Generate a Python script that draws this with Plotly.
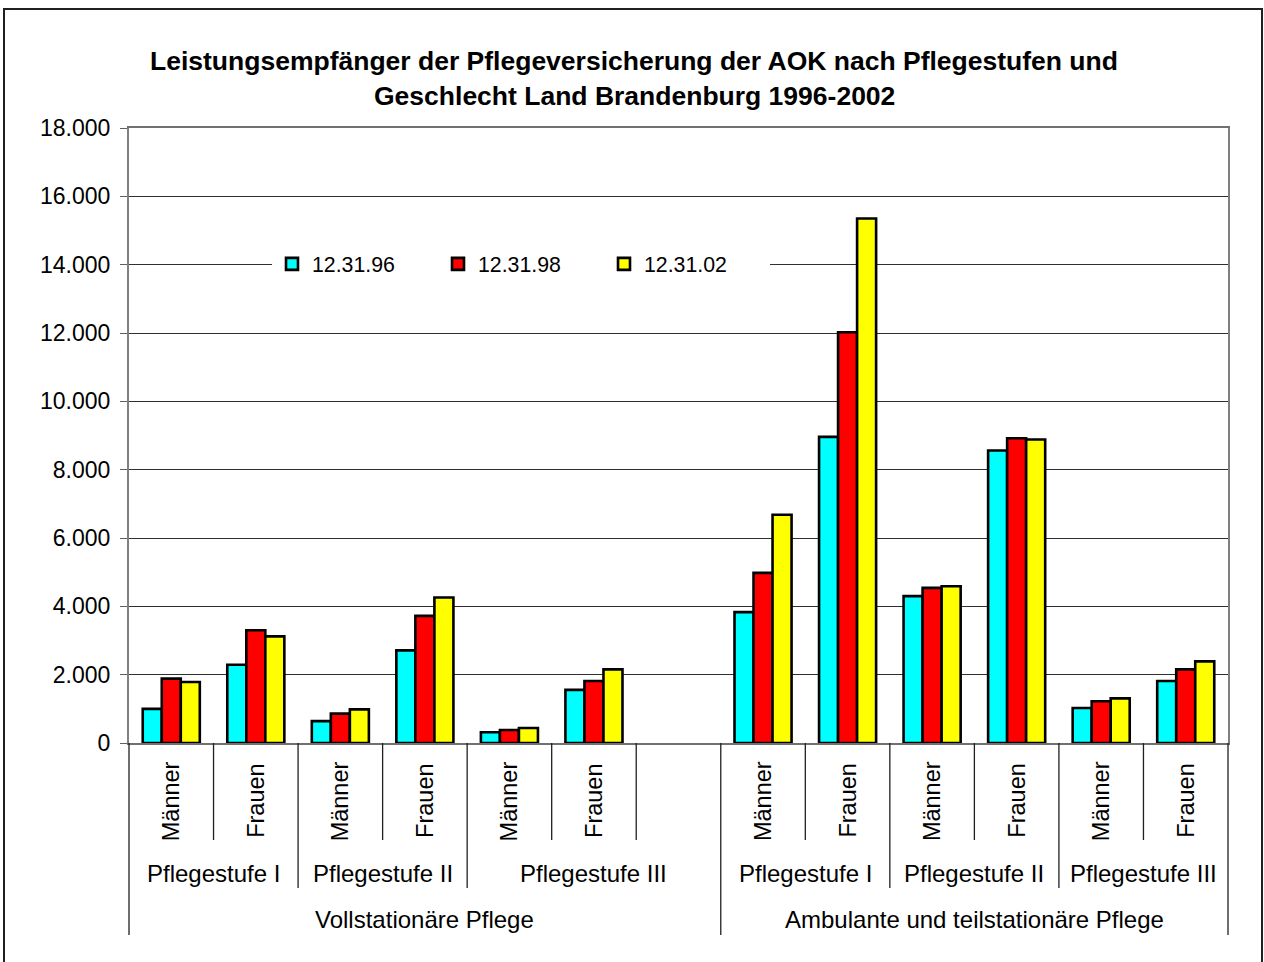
import plotly.graph_objects as go

# ---- data -------------------------------------------------------------
sectors = ["Vollstationäre Pflege"] * 7 + ["Ambulante und teilstationäre Pflege"] * 6
stufen = (["Pflegestufe I"] * 2 + ["Pflegestufe II"] * 2 + ["Pflegestufe III"] * 3
          + ["Pflegestufe I"] * 2 + ["Pflegestufe II"] * 2 + ["Pflegestufe III"] * 2)
sexes = ["Männer", "Frauen", "Männer", "Frauen", "Männer", "Frauen", "",
         "Männer", "Frauen", "Männer", "Frauen", "Männer", "Frauen"]

series_names = ["12.31.96", "12.31.98", "12.31.02"]
v96 = [1000, 2290, 640, 2710, 315, 1555, None, 3830, 8960, 4300, 8560, 1025, 1815]
v98 = [1885, 3300, 860, 3720, 380, 1815, None, 4980, 12020, 4540, 8920, 1220, 2155]
v02 = [1785, 3120, 985, 4260, 440, 2155, None, 6680, 15350, 4590, 8885, 1305, 2390]
colors = ["#00FFFF", "#FF0000", "#FFFF00"]

title_lines = ["Leistungsempfänger der Pflegeversicherung der AOK nach Pflegestufen und",
               "Geschlecht Land Brandenburg 1996-2002"]

FONT = "Liberation Sans, Arial, sans-serif"
W, H = 1264, 962
L, R, T, B = 129, 36, 128, 219
PH = H - T - B


def py(ypix):
    """pixel row -> paper y"""
    return (H - B - ypix) / PH


def px(xpix):
    return (xpix - L) / (W - L - R)


keys = [f"{a}|{b}|{c}|{i}" for i, (a, b, c) in enumerate(zip(sectors, stufen, sexes))]
N = len(keys)

fig = go.Figure()
for name, vals, col in zip(series_names, [v96, v98, v02], colors):
    fig.add_trace(go.Bar(
        x=keys, y=vals, name=name,
        marker=dict(color=col, line=dict(color="black", width=2.6)),
    ))

annotations = []
shapes = []

# title
for txt, yp in zip(title_lines, [61, 96]):
    annotations.append(dict(text=f"<b>{txt}</b>", xref="paper", yref="paper",
                            x=px(634), y=py(yp), xanchor="center", yanchor="middle",
                            showarrow=False, font=dict(family=FONT, size=26.5, color="black")))

# level-1 labels (rotated)
for i, s in enumerate(sexes):
    if s:
        annotations.append(dict(text=s, xref="x", yref="paper", x=i, y=py(801),
                                textangle=-90, showarrow=False, xanchor="center",
                                yanchor="middle", font=dict(family=FONT, size=23.5, color="black")))


def spans(labels):
    out = []
    start = 0
    for i in range(1, len(labels) + 1):
        if i == len(labels) or labels[i] != labels[start]:
            out.append((start, i - 1, labels[start]))
            start = i
    return out


stufe_keys = [f"{a}|{b}" for a, b in zip(sectors, stufen)]
for s0, s1, lab in spans(stufe_keys):
    annotations.append(dict(text=lab.split("|")[1], xref="x", yref="paper",
                            x=(s0 + s1) / 2, y=py(873), showarrow=False,
                            xanchor="center", yanchor="middle",
                            font=dict(family=FONT, size=24, color="black")))
for s0, s1, lab in spans(sectors):
    annotations.append(dict(text=lab, xref="x", yref="paper",
                            x=(s0 + s1) / 2, y=py(919), showarrow=False,
                            xanchor="center", yanchor="middle",
                            font=dict(family=FONT, size=24, color="black")))

# separator lines below the axis
for k in range(N + 1):
    if k == 0 or k == N or sectors[k] != sectors[k - 1]:
        yend = 935
    elif stufen[k] != stufen[k - 1]:
        yend = 888
    else:
        yend = 840
    shapes.append(dict(type="line", xref="paper", yref="paper",
                       x0=k / N, x1=k / N, y0=0, y1=py(yend),
                       line=dict(color="#202020", width=1.3)))

# outer chart frame
shapes.append(dict(type="rect", xref="paper", yref="paper",
                   x0=px(4), x1=px(1262), y0=py(9), y1=py(990),
                   line=dict(color="#202020", width=2), layer="below"))

fig.update_layout(
    width=W, height=H,
    margin=dict(l=L, r=R, t=T, b=B),
    paper_bgcolor="white", plot_bgcolor="white",
    separators=",.",
    barmode="group", bargap=0.325, bargroupgap=0,
    font=dict(family=FONT, size=22, color="black"),
    showlegend=True,
    legend=dict(orientation="h", x=px(272), xanchor="left", y=py(264), yanchor="middle",
                bgcolor="white", borderwidth=0, entrywidth=121, entrywidthmode="pixels",
                font=dict(family=FONT, size=21.3, color="black"), traceorder="normal",
                itemclick=False),
    annotations=annotations,
    shapes=shapes,
)
fig.update_xaxes(type="category", categoryorder="array", categoryarray=keys,
                 showticklabels=False, ticks="", showgrid=False,
                 showline=True, linecolor="#707070", linewidth=2, mirror=True)
fig.update_yaxes(range=[0, 18000], dtick=2000, tickformat=",d",
                 showgrid=True, gridcolor="#303030", gridwidth=1, zeroline=False,
                 ticks="outside", ticklen=7, tickcolor="#606060", tickwidth=1,
                 ticklabelstandoff=5,
                 showline=True, linecolor="#808080", linewidth=2, mirror=True,
                 tickfont=dict(family=FONT, size=23, color="black"))

fig.write_html("out.html", config={"displayModeBar": False},
               post_script="document.body.style.margin='0px';")
